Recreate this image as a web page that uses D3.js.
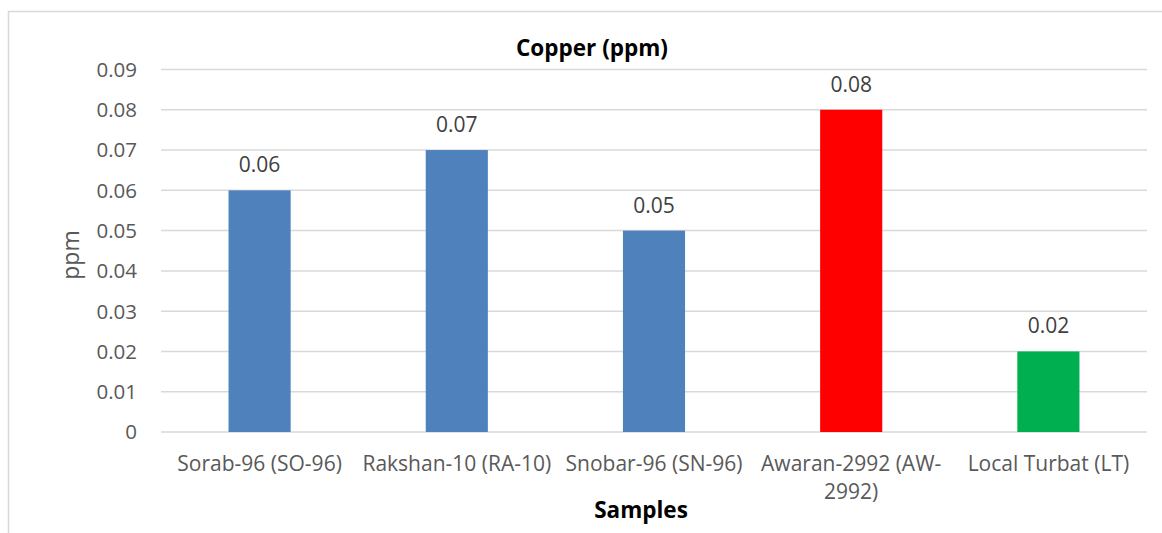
<!DOCTYPE html>
<html>
  <head>
    <meta charset="utf-8">
    <title>Copper (ppm)</title>
    <style>
      body { margin: 0; background: #fff; }
      text { font-family: "Open Sans", sans-serif; }
    </style>
  </head>
  <body>
    <script src="https://d3js.org/d3.v7.min.js"></script>
    <script type="text/javascript">
      var samples = ['Sorab-96 (SO-96)', 'Rakshan-10 (RA-10)', 'Snobar-96 (SN-96)', 'Awaran-2992 (AW-2992)', 'Local Turbat (LT)'];
      var copper = [0.06, 0.07, 0.05, 0.08, 0.02];
      var barColors = ['#4f81bd', '#4f81bd', '#4f81bd', '#ff0000', '#00b050'];
      var yTicks = [0, 0.01, 0.02, 0.03, 0.04, 0.05, 0.06, 0.07, 0.08, 0.09];

      var w = 1162;
      var h = 533;
      var plot = { left: 161, right: 1147, top: 69.5, bottom: 432 };

      var svg = d3.select('body').append('svg').attr('width', w).attr('height', h);

      // chart area frame (cropped on right/bottom like the source)
      svg.append('rect')
        .attr('x', 8.5).attr('y', 11.5)
        .attr('width', 1170).attr('height', 540)
        .attr('fill', 'none').attr('stroke', '#d9d9d9').attr('stroke-width', 1.5);

      var xScale = d3.scaleBand()
        .domain(samples)
        .range([plot.left, plot.right])
        .padding(0);

      var yScale = d3.scaleLinear()
        .domain([0, 0.09])
        .range([plot.bottom, plot.top]);

      var barW = xScale.bandwidth() * 0.315;

      // gridlines
      svg.append('g')
        .selectAll('line')
        .data(yTicks)
        .enter()
        .append('line')
        .attr('x1', plot.left).attr('x2', plot.right)
        .attr('y1', function(d) { return yScale(d); })
        .attr('y2', function(d) { return yScale(d); })
        .attr('stroke', '#d9d9d9').attr('stroke-width', 1.5);

      // y tick labels
      svg.append('g')
        .selectAll('text')
        .data(yTicks)
        .enter()
        .append('text')
        .attr('x', 137)
        .attr('y', function(d) { return yScale(d); })
        .attr('dy', '0.36em')
        .attr('text-anchor', 'end')
        .attr('font-size', '20.5px')
        .attr('fill', '#595959')
        .text(function(d) { return d === 0 ? '0' : d3.format('.2f')(d); });

      // bars
      svg.append('g')
        .selectAll('rect')
        .data(copper)
        .enter()
        .append('rect')
        .attr('x', function(d, i) { return xScale(samples[i]) + (xScale.bandwidth() - barW) / 2; })
        .attr('y', function(d) { return yScale(d); })
        .attr('width', barW)
        .attr('height', function(d) { return yScale(0) - yScale(d); })
        .attr('fill', function(d, i) { return barColors[i]; });

      // value labels
      svg.append('g')
        .selectAll('text')
        .data(copper)
        .enter()
        .append('text')
        .attr('x', function(d, i) { return xScale(samples[i]) + xScale.bandwidth() / 2; })
        .attr('y', function(d) { return yScale(d) - 18; })
        .attr('text-anchor', 'middle')
        .attr('font-size', '21px')
        .attr('fill', '#404040')
        .text(function(d) { return d3.format('.2f')(d); });

      // category labels, wrapped at the band width
      var catG = svg.append('g');
      samples.forEach(function(name) {
        var t = catG.append('text')
          .attr('x', xScale(name) + xScale.bandwidth() / 2)
          .attr('y', 471)
          .attr('text-anchor', 'middle')
          .attr('font-size', '21px')
          .attr('fill', '#595959');
        var parts = name.match(/[^\s-]+-?\s?|\s/g);
        var line = '';
        var ts = t.append('tspan').attr('x', xScale(name) + xScale.bandwidth() / 2);
        parts.forEach(function(p) {
          var test = line + p;
          ts.text(test.trim());
          if (ts.node().getComputedTextLength() > xScale.bandwidth() - 2 && line !== '') {
            ts.text(line.trim());
            line = p;
            ts = t.append('tspan')
              .attr('x', xScale(name) + xScale.bandwidth() / 2)
              .attr('dy', 28)
              .text(p.trim());
          } else {
            line = test;
          }
        });
      });

      // titles
      svg.append('text')
        .attr('x', 592).attr('y', 56)
        .attr('text-anchor', 'middle')
        .attr('font-size', '22.5px').attr('font-weight', 'bold')
        .attr('fill', '#000')
        .text('Copper (ppm)');

      svg.append('text')
        .attr('x', 641).attr('y', 518)
        .attr('text-anchor', 'middle')
        .attr('font-size', '22.5px').attr('font-weight', 'bold')
        .attr('fill', '#000')
        .text('Samples');

      svg.append('text')
        .attr('transform', 'translate(79,255) rotate(-90)')
        .attr('text-anchor', 'middle')
        .attr('font-size', '23px')
        .attr('fill', '#595959')
        .text('ppm');
    </script>
  </body>
</html>
